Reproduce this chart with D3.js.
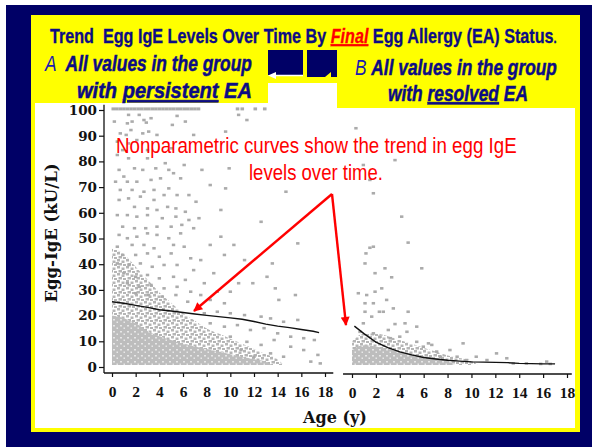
<!DOCTYPE html>
<html><head><meta charset="utf-8">
<script src="https://cdn.jsdelivr.net/npm/d3@7"></script>
<style>body{margin:0;background:#fff;} svg{display:block;} text{white-space:pre;}</style>
</head><body>
<svg id="c" width="592" height="447"></svg>
<script>
// ---------------- DATA ----------------
const xTickValues = [0,2,4,6,8,10,12,14,16,18];
const yTickValues = [0,10,20,30,40,50,60,70,80,90,100];

// Nonparametric trend curves (age in years, egg IgE kU/L)
const persistentTrendAges = [0,1,2,3,4,5,6,7,8,9,10,11,12,13,14,15,16,17,17.5];
const persistentTrendVals = [25.4,24.8,24,23.2,22.3,21.8,21.2,20.6,20.1,19.6,19.1,18.6,17.7,16.7,15.9,15.3,14.6,13.9,13.4];
const resolvedTrendAges = [0.2,1,2,3,4,5,6,7,8,9,10,11,12,13,14,15,16,17];
const resolvedTrendVals = [15.9,13,9.7,7.5,5.9,4.7,3.7,3.1,2.6,2.3,2.0,1.9,1.8,1.7,1.4,1.3,1.2,1.2];

// Dense point mass (upper envelope), persistent group
const persistentCoreAges = [0,1,2,3,4,5,6,7,8,9,10,11,12,13,13.5];
const persistentCoreTops = [20,19,17,14,12,10.5,9,8,7,6,5,4,3,2,0.8];
const persistentHaloAges = [0,1,2,3,4,5,6,7,8,9,10,11,12,13,14,14.5];
const persistentHaloTops = [46,44,39,34,29,25,21,18,15,13,11,9,7,5,3,0.8];
// Dense point mass (upper envelope), resolved group
const resolvedCoreAges = [0,0.5,1,2,3,4,5,6,7,8,8.6];
const resolvedCoreTops = [6,8,8.5,8,7,6,5,4.2,3.5,2.5,0.8];
const resolvedHaloAges = [0,1,2,3,4,5,6,7,8,9,10,10.5];
const resolvedHaloTops = [10,13,13,12,10.5,9,7.5,6,4.5,3.5,2.5,0.8];
const massFloor = 0.8;

// Values capped at 100 kU/L (persistent group)
const persistentCapAges = [0.1,0.4,0.7,1.0,1.3,1.6,1.9,2.2,2.5,2.8,3.1,3.4,3.7,4.0,4.3,4.6,4.9,5.2,5.5,5.8,6.1,6.4,6.7,7.0,7.3,10.6,11.0,12.1,12.9];

// Individual scattered values [age, IgE]
const persistentPoints = [
[1.4,98.1],[2.3,98.1],[2.7,96.1],[3.3,96.8],[5.5,97.7],[6.2,95.5],[10.7,98.1],[11.4,96.1],[1.3,94.8],[1.7,95.5],[2.9,95.1],[5.1,94.2],[0.2,95.5],[0.7,90.9],[1.2,90.3],[1.6,92.2],[2.6,90.9],[3.1,91.6],[3.8,90.3],[6.9,90.3],[9.6,91.6],[0.45,87.7],[1.4,87],[2.1,88.3],[0.9,84.4],[3.0,84.4],[5.0,85.1],[0.45,82.5],[1.4,81.2],[3.0,81.2],[4.5,79.3],[6.1,78.6],[0.6,76.7],[1.9,77.3],[2.6,76.7],[3.7,77.3],[4.8,76.7],[5.2,75.4],[7.6,76.7],[9.9,77.3],[1.0,74.1],[0.3,72.1],[1.3,72.1],[2.1,72.1],[3.3,72.8],[4.1,73.4],[5.8,73.4],[8.3,70.8],[9.6,69.5],[14.7,68.2],[0.7,68.9],[1.7,68.9],[2.7,68.2],[3.55,68.9],[4.8,69.5],[0.6,65],[1.4,65.6],[2.4,66.3],[3.55,65],[4.4,66.9],[5.5,66.9],[6.5,66.9],[1.9,62.3],[3.0,61.7],[3.8,61.1],[4.7,62.3],[5.4,61.7],[6.2,60.4],[7.1,64.3],[9.2,61.1],[0.45,59.1],[1.3,59.1],[2.1,58.5],[3.0,59.1],[4.25,57.9],[5.4,58.5],[6.5,57.2],[7.35,57.9],[12.6,56.5],[0.9,54.6],[1.9,54],[2.85,54],[3.8,54.6],[5.0,54.6],[5.9,55.3],[6.9,54],
[0.6,51.4],[1.3,50.1],[2.1,50.7],[3.0,52],[3.8,51.4],[4.8,50.1],[5.8,52],[9.2,50.7],[0.45,46.8],[1.7,47.5],[2.7,47.5],[3.55,46.2],[5.2,47.5],[6.1,46.8],[8.3,47.5],[10.3,47.5],[15.7,48.1],[0.9,43.6],[2.0,43.6],[3.0,44.2],[4.0,42.9],[5.0,44.2],[6.65,42.3],[7.5,41.6],[9.5,43.6],[11.2,41.6],[13.55,40.3],[0.45,40.3],[1.44,39.7],[2.4,40.3],[3.4,39],[4.4,39.7],[5.5,39.7],[6.9,37.7],[8.6,36.5],[13.1,35.1],[1.0,36.5],[2.0,35.1],[3.0,35.8],[4.0,34.5],[5.2,35.1],[6.2,33.9],[7.8,32.6],[8.9,29.3],[10.0,29.3],[10.7,32.6],[11.9,32.6],[13.8,30.6],[15.5,28],[14.1,26.1],[1.3,32.6],[2.3,31.2],[3.3,31.9],[4.4,30.6],[5.5,31.2],[6.65,29.3],[7.5,28],[8.3,26.1],[9.5,24.8],[2.0,28.7],[3.1,28],[4.25,27.4],[5.4,28],[6.4,25.4],
[7.8,20.9],[8.9,21.5],[10.0,20.9],[11.2,20.2],[12.6,19.6],[13.4,18.9],[14.5,17.6],[15.7,18.3],[8.3,17],[9.5,15.7],[10.6,16.3],[11.7,14.4],[12.85,15.1],[14.0,13.1],[15.1,11.8],[16.2,11.2],[17.1,10.5],[10.0,11.8],[11.4,9.8],[12.6,8.6],[13.7,10.5],[15.1,7.9],[16.2,6.6],[17.4,4.7],[17.6,1.4],[16.8,2.1],[14.5,4.0],[13.4,5.3],[12.0,4.0],[10.9,6.6]
];
const resolvedPoints = [
[1.79,67.6],[4.16,58.5],[4.7,48.4],[1.79,46.8],[1.5,46.4],[1.17,44.2],[1.09,40.3],[2.76,38.4],[5.84,38.4],[1.93,36.5],[3.32,34.9],[0.53,28.7],[1.23,28],[1.93,29.3],[2.49,30.6],[2.9,26.1],[1.09,24.8],[1.79,24.8],[1.09,21.5],[2.29,21.5],[2.62,21.5],[3.46,22.8],[4.7,21.5],[1.65,19.6],[0.95,17],[3.6,16.7],[4.44,17],[5.42,15.7],[0.67,13.7],[3.04,14.4],[4.0,11.8],[3.2,11.2],[5.42,9.8],[6.68,8.6],[7.09,6],[8.2,6.6],[9.3,9.2],[10.4,4],[12.1,5.3],[12.96,3.4],[11.3,2.7],[9.6,2.7],[8.8,4],[14.6,1.4],[16.3,2.1],[16.6,1.2],[13.5,1.4],[15.8,1.2],[6.4,9.2],[7.4,4],[1.79,13.1],[2.35,11.8],[4.6,13.7],[5.97,7.9],[0.33,92.9],[3.6,80.5],[0.95,78.6],[1.5,72.8]
];

// ---------------- DRAWING ----------------
const svg = d3.select('#c');
const NAVY = '#000066', YEL = '#ffff00', TXT = '#0c0c84', PT = '#ababab';
const defs = svg.append('defs');
// speckle texture for the dense clouds of points
const sp = defs.append('pattern').attr('id','speck').attr('patternUnits','userSpaceOnUse').attr('width',9).attr('height',7);
[[0,0,3,2.5],[4.5,1.5,3,2.5],[1.5,4,3.5,2.5],[6,5,3,2]].forEach(r =>
  sp.append('rect').attr('x',r[0]).attr('y',r[1]).attr('width',r[2]).attr('height',r[3]).attr('fill','#b5b5b5'));
const sp2 = defs.append('pattern').attr('id','speck2').attr('patternUnits','userSpaceOnUse').attr('width',7).attr('height',6);
sp2.append('rect').attr('width',7).attr('height',6).attr('fill','#bdbdbd');
[[1,1,2,1.5],[4.5,3.5,1.5,1.5]].forEach(r =>
  sp2.append('rect').attr('x',r[0]).attr('y',r[1]).attr('width',r[2]).attr('height',r[3]).attr('fill','#e8e8e8'));

// slide frame
svg.append('rect').attr('width',592).attr('height',447).attr('fill',NAVY);
svg.append('rect').attr('width',592).attr('height',5).attr('fill','#fff');
svg.append('rect').attr('width',6).attr('height',447).attr('fill','#fff');
svg.append('rect').attr('x',31).attr('y',15).attr('width',549).attr('height',417).attr('fill',YEL);
svg.append('rect').attr('x',35).attr('y',108).attr('width',540).attr('height',320).attr('fill','#fff');
svg.append('rect').attr('x',35).attr('y',103).attr('width',233).attr('height',6).attr('fill','#fff');
svg.append('rect').attr('x',268).attr('y',83).attr('width',69).attr('height',26).attr('fill','#fff');
// navy squares with white arrow
svg.append('rect').attr('x',268).attr('y',50).attr('width',35).attr('height',25).attr('fill',NAVY);
svg.append('rect').attr('x',307).attr('y',50).attr('width',30).attr('height',27).attr('fill',NAVY);
svg.append('path').attr('d','M325,77 L331,72 L331,77 Z').attr('fill',YEL);
svg.append('line').attr('x1',274).attr('x2',303).attr('y1',75.5).attr('y2',75.5).attr('stroke','#fff').attr('stroke-width',1.5);
svg.append('path').attr('d','M268,75.5 L276,72 L276,79 Z').attr('fill','#fff');

// scales
const y = d3.scaleLinear().domain([0,100]).range([367,110]);
const xL = d3.scaleLinear().domain([0,18]).range([112,325]);
const xR = d3.scaleLinear().domain([0,18]).range([352,567]);

function drawPanel(x, coreA, coreT, haloA, haloT, pts, trendA, trendV) {
  const g = svg.append('g');
  const area = (ages, tops) => d3.area().x((d,i)=>x(ages[i])).y0(y(massFloor)).y1((d,i)=>y(tops[i])).curve(d3.curveMonotoneX)(tops);
  g.append('path').attr('d', area(haloA, haloT)).attr('fill','url(#speck)');
  g.append('path').attr('d', area(coreA, coreT)).attr('fill','url(#speck2)');
  g.selectAll('rect.p').data(pts).join('rect').attr('class','p')
    .attr('x', d=>x(d[0])-1.7).attr('y', d=>y(d[1])-1.3).attr('width',3.4).attr('height',2.6).attr('fill',PT);
  g.append('path').attr('d', d3.line().x((d,i)=>x(trendA[i])).y(d=>y(d))(trendV))
    .attr('fill','none').attr('stroke','#111').attr('stroke-width',1.4);
  return g;
}
const gL = drawPanel(xL, persistentCoreAges, persistentCoreTops, persistentHaloAges, persistentHaloTops, persistentPoints, persistentTrendAges, persistentTrendVals);
gL.selectAll('rect.c').data(persistentCapAges).join('rect').attr('class','c')
  .attr('x', d=>xL(d)-1.7).attr('y', y(100)-2.6).attr('width',3.6).attr('height',3).attr('fill',PT);
drawPanel(xR, resolvedCoreAges, resolvedCoreTops, resolvedHaloAges, resolvedHaloTops, resolvedPoints, resolvedTrendAges, resolvedTrendVals);

// axes
const styleAxis = (g, fam, size) => {
  g.select('.domain').remove();
  g.attr('font-family', fam).attr('font-size', size).attr('font-weight','bold');
  g.selectAll('line').attr('stroke','#111').attr('stroke-width',1.2);
  g.selectAll('text').attr('fill','#111');
};
const yAx = svg.append('g').attr('transform','translate(104,0)')
  .call(d3.axisLeft(y).tickValues(yTickValues).tickSize(5).tickPadding(2));
styleAxis(yAx, 'DejaVu Serif', 13.5);
svg.append('line').attr('x1',104).attr('x2',104).attr('y1',y(102)).attr('y2',373).attr('stroke','#111').attr('stroke-width',1.3);

const xAxL = svg.append('g').attr('transform','translate(0,373)')
  .call(d3.axisBottom(xL).tickValues(xTickValues).tickSize(4).tickPadding(9));
styleAxis(xAxL, 'Liberation Serif', 15.5);
svg.append('line').attr('x1',104).attr('x2',xL(18.7)).attr('y1',373).attr('y2',373).attr('stroke','#111').attr('stroke-width',1.3);

const xAxR = svg.append('g').attr('transform','translate(0,374)')
  .call(d3.axisBottom(xR).tickValues(xTickValues).tickSize(4).tickPadding(9));
styleAxis(xAxR, 'Liberation Serif', 15.5);
svg.append('line').attr('x1',xR(-0.75)).attr('x2',xR(18.4)).attr('y1',374).attr('y2',374).attr('stroke','#111').attr('stroke-width',1.3);

// axis titles
svg.append('text').attr('transform','translate(57,233) rotate(-90)').attr('text-anchor','middle')
  .attr('font-family','DejaVu Serif').attr('font-weight','bold').attr('font-size',16.5).attr('fill','#111').text('Egg-IgE (kU/L)');
svg.append('text').attr('x',335).attr('y',423).attr('text-anchor','middle')
  .attr('font-family','DejaVu Serif').attr('font-weight','bold').attr('font-size',16).attr('fill','#111').text('Age (y)');

// text fitting helper
function fitLine(parts, x0, x1, yb, size, family, stroke) {
  const t = svg.append('text').attr('font-family', family).attr('font-size', size);
  parts.forEach(p => {
    const ts = t.append('tspan').text(p.t).attr('fill', p.c || TXT);
    if (p.b) ts.attr('font-weight','bold');
    if (p.i) ts.attr('font-style','italic');
    if (p.u) ts.attr('text-decoration','underline');
    if (p.s) ts.attr('font-size', p.s);
    if (stroke && p.b) ts.attr('stroke', p.c || TXT).attr('stroke-width', stroke);
  });
  const w = t.node().getComputedTextLength();
  t.attr('transform', `translate(${x0},${yb}) scale(${(x1-x0)/w},1)`);
  return t;
}
const SANS = 'Liberation Sans, Arial, sans-serif';
fitLine([{t:'Trend  Egg IgE Levels Over Time By ',b:1},{t:'Final',b:1,i:1,u:1,c:'#ff0000'},{t:' Egg Allergy (EA) Status',b:1},{t:'.',b:1,s:14}], 50, 557, 43, 20, SANS, 0.3);
fitLine([{t:'A  ',i:1,c:'#1b1bb0'},{t:'All values in the group',b:1,i:1}], 45, 252, 71, 22, SANS, 0.5);
fitLine([{t:'with ',b:1,i:1},{t:'persistent',b:1,i:1,u:1},{t:' EA',b:1,i:1}], 77, 252, 98, 22, SANS, 0.5);
fitLine([{t:'B ',i:1,c:'#1b1bb0'},{t:'All values in the group',b:1,i:1}], 355, 557, 75, 22, SANS, 0.5);
fitLine([{t:'with ',b:1,i:1},{t:'resolved',b:1,i:1,u:1},{t:' EA',b:1,i:1}], 388, 528, 101, 22, SANS, 0.5);

// red annotation
fitLine([{t:'Nonparametric curves show the trend in egg IgE',c:'#ff0000'}], 116, 517, 153, 22.5, SANS);
fitLine([{t:'levels over time.',c:'#ff0000'}], 249, 383, 180, 22.5, SANS);

defs.append('marker').attr('id','ah').attr('viewBox','0 0 10 10').attr('refX',9).attr('refY',5)
  .attr('markerWidth',11).attr('markerHeight',9).attr('markerUnits','userSpaceOnUse').attr('orient','auto')
  .append('path').attr('d','M0,0 L10,5 L0,10 Z').attr('fill','#ff0000');
[[194,311],[346,325]].forEach(e => {
  svg.append('line').attr('x1',332).attr('y1',194).attr('x2',e[0]).attr('y2',e[1])
    .attr('stroke','#ff0000').attr('stroke-width',2.4).attr('marker-end','url(#ah)');
});
</script>
</body></html>
